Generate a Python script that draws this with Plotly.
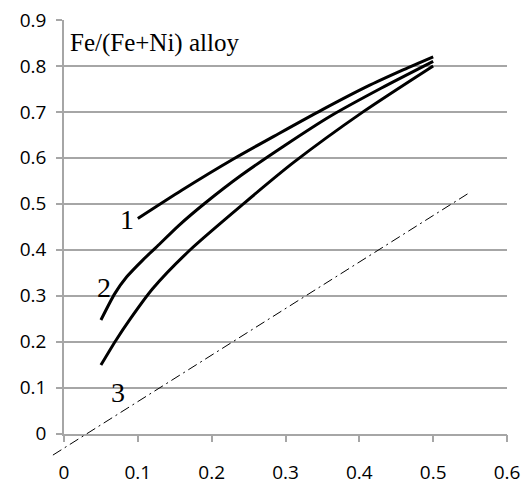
import plotly.graph_objects as go

# ---- data ----
x1 = [0.10, 0.16, 0.23, 0.29, 0.35, 0.41, 0.46, 0.50]
y1 = [0.468, 0.530, 0.598, 0.652, 0.705, 0.755, 0.792, 0.82]

x2 = [0.05, 0.069, 0.085, 0.107, 0.126, 0.155, 0.19, 0.24, 0.30, 0.36, 0.43, 0.50]
y2 = [0.247, 0.305, 0.341, 0.378, 0.407, 0.452, 0.50, 0.562, 0.628, 0.690, 0.752, 0.81]

x3 = [0.05, 0.07, 0.09, 0.12, 0.171, 0.243, 0.311, 0.405, 0.50]
y3 = [0.149, 0.202, 0.25, 0.315, 0.40, 0.50, 0.59, 0.70, 0.80]

ref_x = [-0.015, 0.55]
ref_y = [-0.047, 0.525]

curve_labels = ["1", "2", "3"]
label_x = [0.085, 0.0545, 0.0736]
label_y = [0.465, 0.317, 0.090]

x_ticks = [0, 0.1, 0.2, 0.3, 0.4, 0.5, 0.6]
y_ticks = [0, 0.1, 0.2, 0.3, 0.4, 0.5, 0.6, 0.7, 0.8, 0.9]
title_text = "Fe/(Fe+Ni) alloy"

# ---- layout geometry (pixels) ----
W, H = 527, 486
ML, MR, MT, MB = 44, 20, 20, 26
AX_X0, AX_X1 = 64, 507      # px of x=0 and x=0.6
AX_Y0, AX_Y1 = 433.5, 20    # px of y=0 and y=0.9
XR = [0, 0.6]
YR = [0, 0.9]

pw = W - ML - MR
ph = H - MT - MB
xdom = [(AX_X0 - ML) / pw, (AX_X1 - ML) / pw]
ydom = [(H - MB - AX_Y0) / ph, (H - MB - AX_Y1) / ph]
sx = (AX_X1 - AX_X0) / (XR[1] - XR[0])
sy = (AX_Y0 - AX_Y1) / (YR[1] - YR[0])
x2r = [XR[0] - (AX_X0 - ML) / sx, XR[1] + (W - MR - AX_X1) / sx]
y2r = [YR[0] - (H - MB - AX_Y0) / sy, YR[1] + (AX_Y1 - MT) / sy]

GRID = "#a6a6a6"
tickfont = dict(family="Open Sans, Lato, sans-serif", size=19, color="black")
SERIF = "Liberation Serif, Times New Roman, serif"

fig = go.Figure()
line_style = dict(color="black", width=3, shape="spline", smoothing=0.7)
for xs, ys in [(x1, y1), (x2, y2), (x3, y3)]:
    fig.add_trace(go.Scatter(x=xs, y=ys, mode="lines", line=line_style,
                             showlegend=False, hoverinfo="skip",
                             xaxis="x", yaxis="y"))

fig.add_trace(go.Scatter(x=ref_x, y=ref_y, mode="lines",
                         line=dict(color="black", width=1,
                                   dash="10px,4px,2px,4px"),
                         showlegend=False, hoverinfo="skip",
                         xaxis="x2", yaxis="y2"))

annotations = []
for t, lx, ly in zip(curve_labels, label_x, label_y):
    annotations.append(dict(x=lx, y=ly, xref="x", yref="y", text=t,
                            showarrow=False,
                            font=dict(family=SERIF, size=28, color="black"),
                            xanchor="center", yanchor="middle"))
annotations.append(dict(x=0.006, y=0.849, xref="x", yref="y", text=title_text,
                        showarrow=False,
                        font=dict(family=SERIF, size=25, color="black"),
                        xanchor="left", yanchor="middle"))

fig.update_layout(
    width=W, height=H,
    margin=dict(l=ML, r=MR, t=MT, b=MB, pad=0, autoexpand=False),
    paper_bgcolor="white", plot_bgcolor="rgba(0,0,0,0)",
    annotations=annotations,
    xaxis=dict(domain=xdom, range=XR, anchor="y", tickvals=x_ticks,
               ticktext=[f"{v:g}" for v in x_ticks], automargin=False,
               showgrid=False, zeroline=False, showline=True,
               linecolor=GRID, linewidth=1.5, ticks="outside", ticklen=7,
               tickcolor=GRID, tickwidth=1.5, tickfont=tickfont,
               ticklabelstandoff=14),
    yaxis=dict(domain=ydom, range=YR, anchor="x", tickvals=y_ticks,
               ticktext=[f"{v:g}" for v in y_ticks], automargin=False,
               showgrid=True, gridcolor=GRID, gridwidth=1.5,
               zeroline=False, showline=True,
               linecolor=GRID, linewidth=1.5, ticks="outside", ticklen=6,
               tickcolor=GRID, tickwidth=1.5, tickfont=tickfont,
               ticklabelstandoff=6),
    xaxis2=dict(domain=[0, 1], range=x2r, anchor="y2", visible=False,
                showgrid=False, zeroline=False, automargin=False),
    yaxis2=dict(domain=[0, 1], range=y2r, anchor="x2", visible=False,
                showgrid=False, zeroline=False, automargin=False),
)

fig.write_html("out.html")
